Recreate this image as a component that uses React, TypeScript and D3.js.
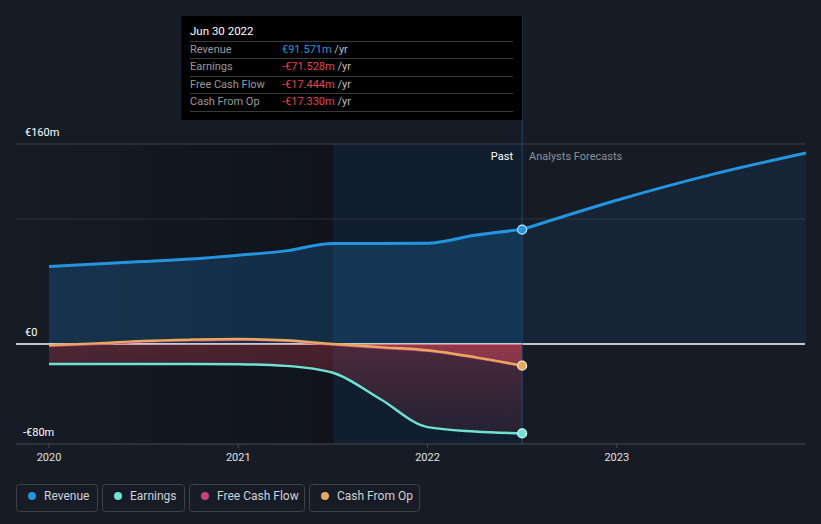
import React from "react";
import * as d3 from "d3";

const years = [2020, 2021, 2022, 2023];
const pastDates = [2020, 2020.25, 2020.5, 2020.75, 2021, 2021.25, 2021.5, 2021.75, 2022, 2022.25, 2022.5];
const revenuePast = [62, 64, 66, 68, 71, 74.5, 80.5, 80.5, 80.6, 87, 91.571];
const forecastDates = [2022.5, 2023, 2023.5, 2024];
const revenueForecast = [91.571, 115, 135.5, 152.8];
const earnings = [-16, -16, -16, -16, -16.2, -17.5, -23, -44, -66.5, -70, -71.528];
const freeCashFlow = [-1.5, 0, 2, 3, 3.5, 2.5, -0.5, -3, -5.5, -11, -17.444];
const cashFromOp = [-1, 0.5, 2.5, 3.5, 4, 3, 0, -2.5, -5, -10.5, -17.33];
const yTicks = [
  { v: 160, label: "€160m" },
  { v: 0, label: "€0" },
  { v: -80, label: "-€80m" },
];
const tooltipRows = [
  { label: "Revenue", value: "€91.571m", neg: false },
  { label: "Earnings", value: "-€71.528m", neg: true },
  { label: "Free Cash Flow", value: "-€17.444m", neg: true },
  { label: "Cash From Op", value: "-€17.330m", neg: true },
];
const legendItems = [
  { label: "Revenue", color: "#2394df" },
  { label: "Earnings", color: "#6fe3d3" },
  { label: "Free Cash Flow", color: "#c2457f" },
  { label: "Cash From Op", color: "#e8a95c" },
];

const W = 821;
const H = 524;
const FONT = "Roboto, 'Noto Sans', sans-serif";

export default function App() {
  const x = d3.scaleLinear().domain([2020, 2024]).range([49, 806]);
  const y = d3.scaleLinear().domain([-80, 160]).range([444, 144]);
  const left = 16;
  const right = 805;
  const xNow = x(2022.5);
  const xHi = x(2021.5);
  const top = y(160);

  const line = (dates: number[], vals: number[]) =>
    d3
      .line<number>()
      .x((_, i) => x(dates[i]))
      .y((d) => y(d))
      .curve(d3.curveMonotoneX)(vals) || "";
  const area = (dates: number[], vals: number[]) =>
    d3
      .area<number>()
      .x((_, i) => x(dates[i]))
      .y0(y(0))
      .y1((d) => y(d))
      .curve(d3.curveMonotoneX)(vals) || "";

  const legendX = [16, 102, 189, 309];
  const legendW = [81, 82, 115, 110];

  return (
    <div style={{ position: "fixed", left: 0, top: 0, width: W, height: H }}>
      <svg width={W} height={H} style={{ display: "block", fontFamily: FONT }}>
        <defs>
          <linearGradient id="darkReg" x1="0" x2="1" y1="0" y2="0">
            <stop offset="0" stopColor="#000" stopOpacity="0" />
            <stop offset="1" stopColor="#000" stopOpacity="0.3" />
          </linearGradient>
          <linearGradient id="negFill" gradientUnits="userSpaceOnUse" x1="0" x2="0" y1={y(0)} y2={y(-80)}>
            <stop offset="0" stopColor="rgb(225,70,95)" stopOpacity="0.28" />
            <stop offset="1" stopColor="rgb(225,70,95)" stopOpacity="0.08" />
          </linearGradient>
          <clipPath id="negClip">
            <rect x={0} y={y(0)} width={W} height={200} />
          </clipPath>
        </defs>
        <rect x={0} y={0} width={W} height={H} fill="#161b25" />

        {/* regions */}
        <rect x={left} y={top} width={xHi - left} height={444 - top} fill="url(#darkReg)" />
        <rect x={xHi} y={top} width={xNow - xHi} height={444 - top} fill="rgb(10,34,56)" fillOpacity={0.5} />

        {/* grid */}
        <line x1={left} x2={right} y1={y(160)} y2={y(160)} stroke="#3d424c" strokeWidth={1} />
        <line x1={left} x2={right} y1={y(100)} y2={y(100)} stroke="#2a303a" strokeWidth={1} />
        <line x1={left} x2={right} y1={444} y2={444} stroke="#454a54" strokeWidth={1} />
        {years.map((yr) => (
          <line key={yr} x1={x(yr)} x2={x(yr)} y1={444} y2={448} stroke="#454a54" />
        ))}

        {/* revenue areas */}
        <path d={area(pastDates, revenuePast)} fill="rgb(33,150,243)" fillOpacity={0.2} />
        <path d={area(forecastDates, revenueForecast)} fill="rgb(33,150,243)" fillOpacity={0.08} />

        {/* zero line */}
        <line x1={left} x2={right} y1={y(0)} y2={y(0)} stroke="#ffffff" strokeWidth={1.5} />

        {/* negative fills */}
        <g clipPath="url(#negClip)">
          <path d={area(pastDates, earnings)} fill="url(#negFill)" />
          <path d={area(pastDates, freeCashFlow)} fill="url(#negFill)" />
          <path d={area(pastDates, cashFromOp)} fill="url(#negFill)" />
        </g>

        {/* hover line */}
        <line x1={xNow} x2={xNow} y1={16} y2={444} stroke="rgb(40,85,130)" strokeOpacity={0.7} strokeWidth={1} />

        {/* lines */}
        <path d={line(pastDates, revenuePast)} fill="none" stroke="#2394df" strokeWidth={3} />
        <path d={line(forecastDates, revenueForecast)} fill="none" stroke="#2394df" strokeWidth={3} />
        <path d={line(pastDates, earnings)} fill="none" stroke="#6fe3d3" strokeWidth={2.5} />
        <path d={line(pastDates, freeCashFlow)} fill="none" stroke="#c2457f" strokeWidth={2.5} />
        <path d={line(pastDates, cashFromOp)} fill="none" stroke="#e8a95c" strokeWidth={2.5} />

        {/* dots */}
        <circle cx={xNow} cy={y(revenuePast[revenuePast.length - 1])} r={4.5} fill="#2394df" stroke="#cfe6f7" strokeWidth={1.2} />
        <circle cx={xNow} cy={y(earnings[earnings.length - 1])} r={4.5} fill="#6fe3d3" stroke="#e6fbf8" strokeWidth={1.2} />
        <circle cx={xNow} cy={y(cashFromOp[cashFromOp.length - 1])} r={4.5} fill="#e8a95c" stroke="#fbeedd" strokeWidth={1.2} />

        {/* y labels */}
        {yTicks.map((t) => (
          <text key={t.v} x={t.v < 0 ? 23 : 25} y={y(t.v) - 8} fill="#ffffff" fontSize={11}>
            {t.label}
          </text>
        ))}
        {/* x labels */}
        {years.map((yr) => (
          <text key={yr} x={x(yr)} y={461} fill="#e0e0e0" fontSize={11} textAnchor="middle">
            {yr}
          </text>
        ))}

        <text x={513} y={160} fill="#ffffff" fontSize={11} textAnchor="end">Past</text>
        <text x={529} y={160} fill="#8b9099" fontSize={11}>Analysts Forecasts</text>

        {/* tooltip */}
        <rect x={181.5} y={16} width={xNow - 181.5} height={104} fill="#000000" />
        <text x={190} y={35} fill="#ffffff" fontSize={11.5}>Jun 30 2022</text>
        {[41, 58, 76, 93, 111].map((ly) => (
          <line key={ly} x1={190} x2={513} y1={ly + 0.5} y2={ly + 0.5} stroke="#3a3a3a" />
        ))}
        {tooltipRows.map((r, i) => (
          <g key={r.label}>
            <text x={190} y={53 + i * 17.3} fill="#9a9a9a" fontSize={11}>{r.label}</text>
            <text x={282} y={53 + i * 17.3} fontSize={11}>
              <tspan fill={r.neg ? "#e64545" : "#2394df"}>{r.value}</tspan>
              <tspan fill="#bdbdbd"> /yr</tspan>
            </text>
          </g>
        ))}

        {/* legend */}
        {legendItems.map((it, i) => (
          <g key={it.label}>
            <rect x={legendX[i] + 0.5} y={484.5} width={legendW[i]} height={27} rx={3} fill="none" stroke="#3c414b" />
            <circle cx={legendX[i] + 16} cy={496} r={4} fill={it.color} />
            <text x={legendX[i] + 28} y={500} fill="#cfd2d6" fontSize={12}>{it.label}</text>
          </g>
        ))}
      </svg>
    </div>
  );
}
